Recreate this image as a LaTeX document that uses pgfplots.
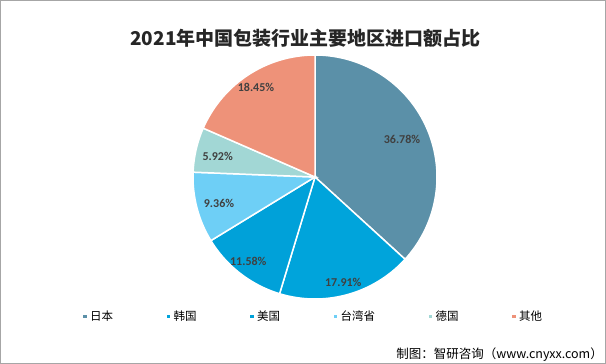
\documentclass[border=0pt]{standalone}
\usepackage{pgfplots}
\pgfplotsset{compat=1.18}
\usepackage{fontspec}
\setmainfont{Noto Sans CJK SC}
\newfontfamily\lab{Carlito}
\definecolor{cJP}{HTML}{5B90A8}
\definecolor{cKR}{HTML}{00A4DB}
\definecolor{cUS}{HTML}{00A1D9}
\definecolor{cTW}{HTML}{6ECFF6}
\definecolor{cDE}{HTML}{A2D7D5}
\definecolor{cOT}{HTML}{EE9279}
\definecolor{txt}{HTML}{404040}
\begin{document}
\begin{tikzpicture}
\begin{axis}[
  x=1pt, y=1pt, xmin=0, xmax=606, ymin=0, ymax=364,
  scale only axis, hide axis, clip=false,
  legend columns=6,
  legend style={draw=none, fill=none, inner sep=0pt,
    at={(axis cs:81.5,47.6)}, anchor=west,
    nodes={inner xsep=2pt},
    font=\fontsize{11.5}{13}\selectfont,
    /tikz/every even column/.append style={column sep=50pt}},
  legend image code/.code={\fill[#1] (0pt,-2.5pt) rectangle (5pt,2.5pt);},
]
% frame
\draw[color=black!35, line width=1pt] (axis cs:0.5,0.5) rectangle (axis cs:605.5,363.5);
% slices (domain in cumulative percent, starting at 12 o'clock, clockwise)
\addplot[fill=cJP, draw=white, line width=1.5pt, domain=0:36.78, samples=80]
  ({315+122*cos(90-3.6*x)},{187+122*sin(90-3.6*x)}) -- (axis cs:315,187) -- cycle;
\addlegendentry{日本}
\addplot[fill=cKR, draw=white, line width=1.5pt, domain=36.78:54.69, samples=50]
  ({315+122*cos(90-3.6*x)},{187+122*sin(90-3.6*x)}) -- (axis cs:315,187) -- cycle;
\addlegendentry{韩国}
\addplot[fill=cUS, draw=white, line width=1.5pt, domain=54.69:66.27, samples=40]
  ({315+122*cos(90-3.6*x)},{187+122*sin(90-3.6*x)}) -- (axis cs:315,187) -- cycle;
\addlegendentry{美国}
\addplot[fill=cTW, draw=white, line width=1.5pt, domain=66.27:75.63, samples=40]
  ({315+122*cos(90-3.6*x)},{187+122*sin(90-3.6*x)}) -- (axis cs:315,187) -- cycle;
\addlegendentry{台湾省}
\addplot[fill=cDE, draw=white, line width=1.5pt, domain=75.63:81.55, samples=30]
  ({315+122*cos(90-3.6*x)},{187+122*sin(90-3.6*x)}) -- (axis cs:315,187) -- cycle;
\addlegendentry{德国}
\addplot[fill=cOT, draw=white, line width=1.5pt, domain=81.55:100, samples=50]
  ({315+122*cos(90-3.6*x)},{187+122*sin(90-3.6*x)}) -- (axis cs:315,187) -- cycle;
\addlegendentry{其他}
% data labels
\begin{scope}[every node/.style={font=\lab\bfseries\fontsize{12}{14}\selectfont, text=txt}]
\node at (axis cs:402,224.7) {36.78\%};
\node at (axis cs:343.3,81.7) {17.91\%};
\node at (axis cs:248.3,102.3) {11.58\%};
\node at (axis cs:219,160.3) {9.36\%};
\node at (axis cs:217.7,207.3) {5.92\%};
\node at (axis cs:256,276.3) {18.45\%};
\end{scope}
% title
\node[font=\bfseries\fontsize{19}{22}\selectfont, text=black!85] at (axis cs:305.5,325.5) {2021年中国包装行业主要地区进口额占比};
% source
\node[font=\fontsize{12.5}{14}\selectfont, anchor=east, inner sep=0pt] at (axis cs:603,9.5) {制图：智研咨询（www.cnyxx.com）};
\end{axis}
\end{tikzpicture}
\end{document}
